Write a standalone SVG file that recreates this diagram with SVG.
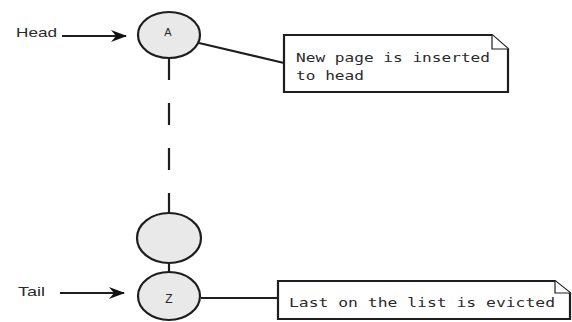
<svg xmlns="http://www.w3.org/2000/svg" width="572" height="322" viewBox="0 0 572 322">
  <style>
    .node { fill: #e9e9e9; stroke: #1e1e1e; stroke-width: 2.2; }
    .wire { stroke: #1e1e1e; stroke-width: 2.2; fill: none; }
    .note { fill: #ffffff; stroke: #1e1e1e; stroke-width: 2.2; }
    .fold { fill: #ffffff; stroke: #1e1e1e; stroke-width: 1.2; }
    .label { font-family: "Liberation Sans", Arial, sans-serif; font-size: 13px; fill: #2a2a2a; }
    .glyph { font-family: "Liberation Sans", Arial, sans-serif; font-size: 11px; fill: #2a2a2a; text-anchor: middle; }
    .mono { font-family: "DejaVu Sans Mono", "Liberation Mono", monospace; font-size: 13px; fill: #2a2a2a; }
  </style>
  <defs>
    <marker id="arrow" viewBox="0 0 16 12" refX="15" refY="6" markerWidth="16" markerHeight="12" markerUnits="userSpaceOnUse" orient="auto">
      <path d="M0,0 L16,6 L0,12 L5,6 Z" fill="#111111"/>
    </marker>
  </defs>

  <!-- connectors -->
  <g id="connectors">
    <line class="wire" x1="62" y1="36" x2="126" y2="36" marker-end="url(#arrow)"/>
    <line class="wire" x1="60" y1="293" x2="124" y2="293" marker-end="url(#arrow)"/>
    <line class="wire" x1="169" y1="58" x2="169" y2="214" stroke-dasharray="22 23"/>
    <line class="wire" x1="169" y1="262" x2="169" y2="272"/>
    <line class="wire" x1="199" y1="43" x2="284" y2="63"/>
    <line class="wire" x1="201" y1="298" x2="278" y2="298"/>
  </g>

  <!-- pointer labels -->
  <g id="head-label">
    <text class="label" x="16" y="37" textLength="41" lengthAdjust="spacingAndGlyphs">Head</text>
  </g>
  <g id="tail-label">
    <text class="label" x="18" y="296" textLength="27" lengthAdjust="spacingAndGlyphs">Tail</text>
  </g>

  <!-- list entries -->
  <g id="node-a">
    <ellipse class="node" cx="169" cy="35" rx="31" ry="23"/>
    <text class="glyph" x="168" y="36">A</text>
  </g>
  <g id="node-mid">
    <ellipse class="node" cx="169" cy="238" rx="32" ry="25"/>
  </g>
  <g id="node-z">
    <ellipse class="node" cx="169" cy="296" rx="31" ry="24"/>
    <text class="glyph" x="169" y="303" style="font-size:12px">Z</text>
  </g>

  <!-- comment notes -->
  <g id="note-insert">
    <path class="note" d="M284,35 L492,35 L508,49 L508,92 L284,92 Z"/>
    <path class="fold" d="M492,35 L492,49 L508,49"/>
    <text class="mono" x="296" y="62" textLength="194" lengthAdjust="spacingAndGlyphs">New page is inserted</text>
    <text class="mono" x="296" y="80" textLength="68" lengthAdjust="spacingAndGlyphs">to head</text>
  </g>
  <g id="note-evict">
    <path class="note" d="M278,281 L555,281 L570,293 L570,319 L278,319 Z"/>
    <path class="fold" d="M555,281 L555,293 L570,293"/>
    <text class="mono" x="289" y="307" textLength="266" lengthAdjust="spacingAndGlyphs">Last on the list is evicted</text>
  </g>
</svg>
